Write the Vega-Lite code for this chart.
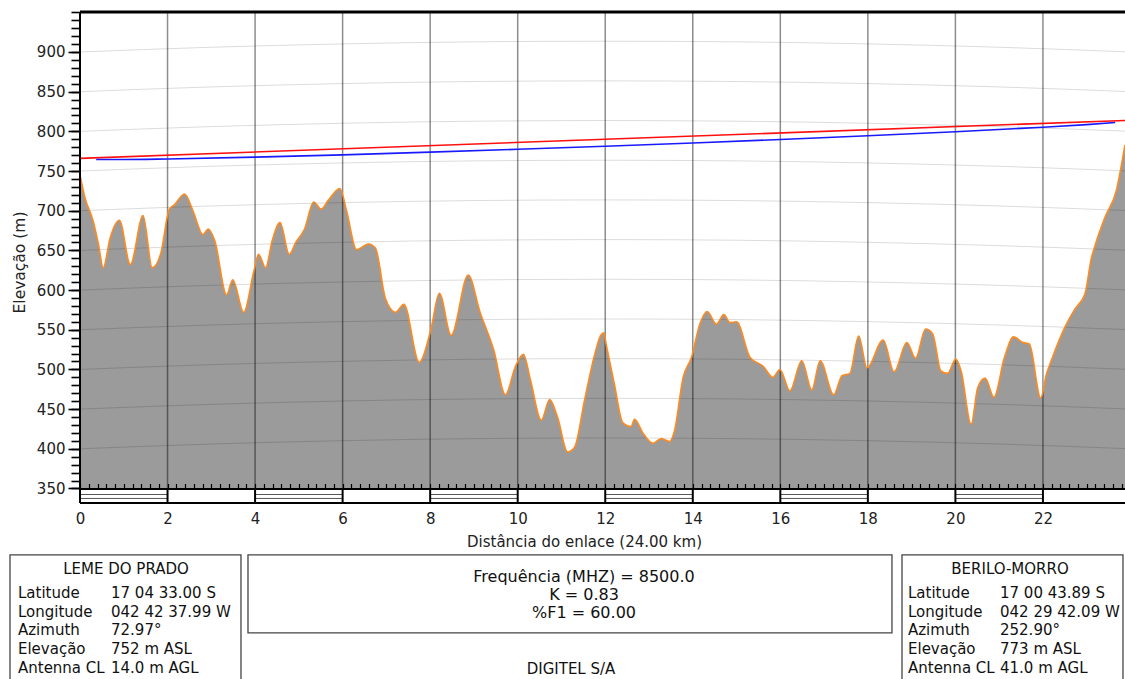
{
"$schema":"https://vega.github.io/schema/vega-lite/v6.json",
"width":1045,"height":667,
"autosize":{"type":"none"},
"padding":{"left":80,"top":12,"right":0,"bottom":0},
"background":"white",
"config":{"view":{"stroke":null},"font":"DejaVu Sans","text":{"font":"DejaVu Sans"}},
"resolve":{"axis":{"x":"independent","y":"independent"}},
"data":{"values":[{}]},
"datasets":{
"terrain":[
{"d":0,"h":745},{"d":0.11,"h":717},{"d":0.3,"h":687},{"d":0.42,"h":658},{"d":0.53,"h":628},{"d":0.69,"h":666},{"d":0.9,"h":688},{"d":1.15,"h":632},{"d":1.44,"h":694},{"d":1.65,"h":628},{"d":1.85,"h":647},{"d":2.04,"h":702},{"d":2.15,"h":707},{"d":2.39,"h":721},{"d":2.58,"h":700},{"d":2.81,"h":670},{"d":2.93,"h":677},{"d":3.08,"h":662},{"d":3.35,"h":594},{"d":3.49,"h":613},{"d":3.74,"h":572},{"d":3.97,"h":623},{"d":4.08,"h":645},{"d":4.24,"h":628},{"d":4.39,"h":662},{"d":4.57,"h":685},{"d":4.78,"h":645},{"d":4.93,"h":660},{"d":5.13,"h":677},{"d":5.34,"h":711},{"d":5.51,"h":702},{"d":5.67,"h":713},{"d":5.94,"h":728},{"d":6.09,"h":700},{"d":6.32,"h":651},{"d":6.59,"h":658},{"d":6.75,"h":653},{"d":6.98,"h":589},{"d":7.21,"h":572},{"d":7.4,"h":582},{"d":7.75,"h":509},{"d":8.02,"h":551},{"d":8.21,"h":596},{"d":8.48,"h":543},{"d":8.87,"h":619},{"d":9.14,"h":572},{"d":9.45,"h":525},{"d":9.72,"h":468},{"d":9.95,"h":504},{"d":10.13,"h":519},{"d":10.29,"h":487},{"d":10.54,"h":436},{"d":10.73,"h":462},{"d":10.91,"h":440},{"d":11.14,"h":396},{"d":11.3,"h":402},{"d":11.53,"h":462},{"d":11.76,"h":519},{"d":11.9,"h":543},{"d":11.97,"h":546},{"d":12.02,"h":532},{"d":12.21,"h":481},{"d":12.4,"h":433},{"d":12.59,"h":428},{"d":12.67,"h":437},{"d":12.86,"h":420},{"d":13.09,"h":407},{"d":13.28,"h":413},{"d":13.47,"h":409},{"d":13.58,"h":422},{"d":13.78,"h":490},{"d":13.97,"h":515},{"d":14.16,"h":557},{"d":14.33,"h":573},{"d":14.54,"h":557},{"d":14.71,"h":569},{"d":14.85,"h":559},{"d":15.0,"h":560},{"d":15.31,"h":515},{"d":15.61,"h":504},{"d":15.83,"h":490},{"d":15.99,"h":500},{"d":16.22,"h":473},{"d":16.49,"h":511},{"d":16.72,"h":474},{"d":16.91,"h":511},{"d":17.22,"h":468},{"d":17.41,"h":492},{"d":17.59,"h":495},{"d":17.79,"h":542},{"d":17.98,"h":502},{"d":18.35,"h":537},{"d":18.6,"h":497},{"d":18.89,"h":534},{"d":19.09,"h":514},{"d":19.32,"h":551},{"d":19.48,"h":545},{"d":19.67,"h":498},{"d":19.82,"h":495},{"d":20.01,"h":513},{"d":20.13,"h":498},{"d":20.36,"h":431},{"d":20.51,"h":477},{"d":20.68,"h":489},{"d":20.88,"h":465},{"d":21.12,"h":515},{"d":21.33,"h":541},{"d":21.54,"h":534},{"d":21.69,"h":532},{"d":21.95,"h":464},{"d":22.08,"h":494},{"d":22.19,"h":511},{"d":22.5,"h":553},{"d":22.73,"h":576},{"d":22.96,"h":595},{"d":23.11,"h":641},{"d":23.19,"h":656},{"d":23.42,"h":692},{"d":23.68,"h":726},{"d":23.84,"h":772},{"d":23.875,"h":783}
],
"los":[{"d":0,"h":766},{"d":24,"h":814}],
"fresnel":[{"d":0.37,"h":764.6},{"d":1,"h":764.5},{"d":2,"h":765.2},{"d":4,"h":767.5},{"d":6,"h":770.4},{"d":8,"h":773.8},{"d":10,"h":777.4},{"d":12,"h":781.3},{"d":14,"h":785.4},{"d":16,"h":789.8},{"d":18,"h":794.4},{"d":20,"h":799.5},{"d":22,"h":805.2},{"d":23,"h":808.5},{"d":23.65,"h":811.2}],
"curv":[
{"lvl":400,"d":0,"h":400},{"lvl":400,"d":3,"h":406},{"lvl":400,"d":6,"h":410.2},{"lvl":400,"d":9,"h":412.8},{"lvl":400,"d":12,"h":413.6},{"lvl":400,"d":15,"h":412.8},{"lvl":400,"d":18,"h":410.2},{"lvl":400,"d":21,"h":406},{"lvl":400,"d":24,"h":400},
{"lvl":450,"d":0,"h":450},{"lvl":450,"d":3,"h":456},{"lvl":450,"d":6,"h":460.2},{"lvl":450,"d":9,"h":462.8},{"lvl":450,"d":12,"h":463.6},{"lvl":450,"d":15,"h":462.8},{"lvl":450,"d":18,"h":460.2},{"lvl":450,"d":21,"h":456},{"lvl":450,"d":24,"h":450},
{"lvl":500,"d":0,"h":500},{"lvl":500,"d":3,"h":506},{"lvl":500,"d":6,"h":510.2},{"lvl":500,"d":9,"h":512.8},{"lvl":500,"d":12,"h":513.6},{"lvl":500,"d":15,"h":512.8},{"lvl":500,"d":18,"h":510.2},{"lvl":500,"d":21,"h":506},{"lvl":500,"d":24,"h":500},
{"lvl":550,"d":0,"h":550},{"lvl":550,"d":3,"h":556},{"lvl":550,"d":6,"h":560.2},{"lvl":550,"d":9,"h":562.8},{"lvl":550,"d":12,"h":563.6},{"lvl":550,"d":15,"h":562.8},{"lvl":550,"d":18,"h":560.2},{"lvl":550,"d":21,"h":556},{"lvl":550,"d":24,"h":550},
{"lvl":600,"d":0,"h":600},{"lvl":600,"d":3,"h":606},{"lvl":600,"d":6,"h":610.2},{"lvl":600,"d":9,"h":612.8},{"lvl":600,"d":12,"h":613.6},{"lvl":600,"d":15,"h":612.8},{"lvl":600,"d":18,"h":610.2},{"lvl":600,"d":21,"h":606},{"lvl":600,"d":24,"h":600},
{"lvl":650,"d":0,"h":650},{"lvl":650,"d":3,"h":656},{"lvl":650,"d":6,"h":660.2},{"lvl":650,"d":9,"h":662.8},{"lvl":650,"d":12,"h":663.6},{"lvl":650,"d":15,"h":662.8},{"lvl":650,"d":18,"h":660.2},{"lvl":650,"d":21,"h":656},{"lvl":650,"d":24,"h":650},
{"lvl":700,"d":0,"h":700},{"lvl":700,"d":3,"h":706},{"lvl":700,"d":6,"h":710.2},{"lvl":700,"d":9,"h":712.8},{"lvl":700,"d":12,"h":713.6},{"lvl":700,"d":15,"h":712.8},{"lvl":700,"d":18,"h":710.2},{"lvl":700,"d":21,"h":706},{"lvl":700,"d":24,"h":700},
{"lvl":750,"d":0,"h":750},{"lvl":750,"d":3,"h":756},{"lvl":750,"d":6,"h":760.2},{"lvl":750,"d":9,"h":762.8},{"lvl":750,"d":12,"h":763.6},{"lvl":750,"d":15,"h":762.8},{"lvl":750,"d":18,"h":760.2},{"lvl":750,"d":21,"h":756},{"lvl":750,"d":24,"h":750},
{"lvl":800,"d":0,"h":800},{"lvl":800,"d":3,"h":806},{"lvl":800,"d":6,"h":810.2},{"lvl":800,"d":9,"h":812.8},{"lvl":800,"d":12,"h":813.6},{"lvl":800,"d":15,"h":812.8},{"lvl":800,"d":18,"h":810.2},{"lvl":800,"d":21,"h":806},{"lvl":800,"d":24,"h":800},
{"lvl":850,"d":0,"h":850},{"lvl":850,"d":3,"h":856},{"lvl":850,"d":6,"h":860.2},{"lvl":850,"d":9,"h":862.8},{"lvl":850,"d":12,"h":863.6},{"lvl":850,"d":15,"h":862.8},{"lvl":850,"d":18,"h":860.2},{"lvl":850,"d":21,"h":856},{"lvl":850,"d":24,"h":850},
{"lvl":900,"d":0,"h":900},{"lvl":900,"d":3,"h":906},{"lvl":900,"d":6,"h":910.2},{"lvl":900,"d":9,"h":912.8},{"lvl":900,"d":12,"h":913.6},{"lvl":900,"d":15,"h":912.8},{"lvl":900,"d":18,"h":910.2},{"lvl":900,"d":21,"h":906},{"lvl":900,"d":24,"h":900}
],
"vgrid":[{"d":2},{"d":4},{"d":6},{"d":8},{"d":10},{"d":12},{"d":14},{"d":16},{"d":18},{"d":20},{"d":22}],
"bars":[{"d0":0,"d1":2},{"d0":4,"d1":6},{"d0":8,"d1":10},{"d0":12,"d1":14},{"d0":16,"d1":18},{"d0":20,"d1":22}]
},
"layer":[
{"data":{"name":"terrain"},"mark":{"type":"area","fill":"#909090","opacity":0.9,"interpolate":"monotone","clip":true},
 "encoding":{
  "x":{"field":"d","type":"quantitative","scale":{"domain":[0,23.875],"nice":false,"zero":false},
   "axis":{"orient":"bottom","offset":-176,"values":[0,2,4,6,8,10,12,14,16,18,20,22],
    "domain":false,"ticks":false,"grid":false,"labelOverlap":false,"labelFlush":false,"labelBound":false,
    "labelFontSize":15,"labelColor":"#222","labelPadding":8,"format":"d",
    "title":"Distância do enlace (24.00 km)","titleFontSize":15,"titleFontWeight":"normal","titleColor":"#222","titlePadding":8,"titleX":504,"titleAlign":"center"}},
  "y":{"field":"h","type":"quantitative","scale":{"domain":[109.9,950.4],"nice":false,"zero":false},
   "axis":{"orient":"left","values":[350,400,450,500,550,600,650,700,750,800,850,900],
    "domain":false,"grid":false,"tickColor":"#000","tickWidth":1.6,"tickSize":12,
    "labelOverlap":false,"labelFontSize":15,"labelColor":"#222","labelPadding":3,"format":"d",
    "title":"Elevação (m)","titleFontSize":15.5,"titleFontWeight":"normal","titleColor":"#222",
    "titleX":-61,"titleY":250,"titleAlign":"center","titleBaseline":"middle","titleAngle":-90}},
  "y2":{"datum":350}}},
{"data":{"name":"curv"},
 "mark":{"type":"line","stroke":"#000","strokeOpacity":0.14,"strokeWidth":1,"interpolate":"monotone","clip":true},
 "encoding":{"x":{"field":"d","type":"quantitative","axis":null},"y":{"field":"h","type":"quantitative","axis":null},"detail":{"field":"lvl"}}},
{"data":{"name":"vgrid"},"mark":{"type":"rule","stroke":"#000","strokeOpacity":0.45,"strokeWidth":1.5},
 "encoding":{
  "x":{"field":"d","type":"quantitative",
   "axis":{"orient":"top","offset":-476.5,"zindex":1,"values":[0,0.2,0.4,0.6,0.8,1,1.2,1.4,1.6,1.8,2,2.2,2.4,2.6,2.8,3,3.2,3.4,3.6,3.8,4,4.2,4.4,4.6,4.8,5,5.2,5.4,5.6,5.8,6,6.2,6.4,6.6,6.8,7,7.2,7.4,7.6,7.8,8,8.2,8.4,8.6,8.8,9,9.2,9.4,9.6,9.8,10,10.2,10.4,10.6,10.8,11,11.2,11.4,11.6,11.8,12,12.2,12.4,12.6,12.8,13,13.2,13.4,13.6,13.8,14,14.2,14.4,14.6,14.8,15,15.2,15.4,15.6,15.8,16,16.2,16.4,16.6,16.8,17,17.2,17.4,17.6,17.8,18,18.2,18.4,18.6,18.8,19,19.2,19.4,19.6,19.8,20,20.2,20.4,20.6,20.8,21,21.2,21.4,21.6,21.8,22,22.2,22.4,22.6,22.8,23,23.2,23.4,23.6,23.8],
    "domain":true,"domainColor":"#000","domainWidth":2,"ticks":true,"tickColor":"#000","tickWidth":1.2,"tickSize":5,"grid":false,"labels":false,"title":null}},
  "y":{"datum":350,
   "axis":{"orient":"left","values":[350,360,370,380,390,400,410,420,430,440,450,460,470,480,490,500,510,520,530,540,550,560,570,580,590,600,610,620,630,640,650,660,670,680,690,700,710,720,730,740,750,760,770,780,790,800,810,820,830,840,850,860,870,880,890,900,910,920,930,940,950],
    "domain":false,"grid":false,"tickColor":"#000","tickWidth":1.6,"tickSize":9,"labels":false,"title":null}},
  "y2":{"datum":950.4}}},
{"data":{"name":"terrain"},"mark":{"type":"line","stroke":"#ff8a1f","strokeWidth":1.6,"interpolate":"monotone","clip":true},
 "encoding":{"x":{"field":"d","type":"quantitative","axis":null},"y":{"field":"h","type":"quantitative","axis":null}}},
{"data":{"name":"los"},"mark":{"type":"line","stroke":"#ff1010","strokeWidth":1.6,"clip":true},
 "encoding":{"x":{"field":"d","type":"quantitative","axis":null},"y":{"field":"h","type":"quantitative","axis":null}}},
{"data":{"name":"fresnel"},"mark":{"type":"line","stroke":"#1a1aff","strokeWidth":1.6,"interpolate":"monotone","clip":true},
 "encoding":{"x":{"field":"d","type":"quantitative","axis":null},"y":{"field":"h","type":"quantitative","axis":null}}},
{"data":{"name":"bars"},"mark":{"type":"rule","stroke":"#555","strokeWidth":1},
 "encoding":{"x":{"field":"d0","type":"quantitative","axis":null},"x2":{"field":"d1"},"y":{"datum":342.4,"axis":null}}},
{"data":{"name":"bars"},"mark":{"type":"rule","stroke":"#555","strokeWidth":1},
 "encoding":{"x":{"field":"d0","type":"quantitative","axis":null},"x2":{"field":"d1"},"y":{"datum":337.4,"axis":null}}},
{"data":{"name":"vgrid"},"mark":{"type":"rule","stroke":"#000","strokeWidth":2},
 "encoding":{"x":{"field":"d","type":"quantitative","axis":null},"y":{"datum":331.7,"axis":null},"y2":{"datum":350}}},
{"mark":{"type":"rule","stroke":"#000","strokeWidth":2},"encoding":{"y":{"datum":331.7,"axis":null}}},
{"mark":{"type":"rule","stroke":"#000","strokeWidth":3},"encoding":{"y":{"datum":950.4,"axis":null}}},
{"mark":{"type":"rule","stroke":"#000","strokeWidth":2},"encoding":{"x":{"datum":0,"axis":null},"y":{"datum":331.7,"axis":null},"y2":{"datum":950.4}}},
{"mark":{"type":"rect","fill":"white","stroke":"#444","strokeWidth":1.3,"clip":false},
 "encoding":{"x":{"datum":-1.599,"axis":null},"x2":{"datum":3.678},"y":{"datum":266.2,"axis":null},"y2":{"datum":96.1}}},
{"mark":{"type":"rect","fill":"white","stroke":"#444","strokeWidth":1.3,"clip":false},
 "encoding":{"x":{"datum":3.838,"axis":null},"x2":{"datum":18.551},"y":{"datum":266.2,"axis":null},"y2":{"datum":167.9}}},
{"mark":{"type":"rect","fill":"white","stroke":"#444","strokeWidth":1.3,"clip":false},
 "encoding":{"x":{"datum":18.78,"axis":null},"x2":{"datum":23.829},"y":{"datum":266.2,"axis":null},"y2":{"datum":96.1}}},
{"mark":{"type":"text","text":"LEME DO PRADO","align":"center","baseline":"alphabetic","fontSize":15,"color":"#111"},
 "encoding":{"x":{"datum":1.051,"axis":null},"y":{"datum":242.2,"axis":null}}},
{"mark":{"type":"text","text":["Latitude","Longitude","Azimuth","Elevação","Antenna CL"],"align":"left","baseline":"alphabetic","fontSize":15,"lineHeight":18.75,"color":"#111"},
 "encoding":{"x":{"datum":-1.417,"axis":null},"y":{"datum":212.0,"axis":null}}},
{"mark":{"type":"text","text":["17 04 33.00 S","042 42 37.99 W","72.97°","752 m ASL","14.0 m AGL"],"align":"left","baseline":"alphabetic","fontSize":15,"lineHeight":18.75,"color":"#111"},
 "encoding":{"x":{"datum":0.708,"axis":null},"y":{"datum":212.0,"axis":null}}},
{"mark":{"type":"text","text":["Frequência (MHZ) = 8500.0","K = 0.83","%F1 = 60.00"],"align":"center","baseline":"alphabetic","fontSize":16,"lineHeight":18,"color":"#111"},
 "encoding":{"x":{"datum":11.515,"axis":null},"y":{"datum":232.2,"axis":null}}},
{"mark":{"type":"text","text":"DIGITEL S/A","align":"center","baseline":"alphabetic","fontSize":15,"color":"#111"},
 "encoding":{"x":{"datum":11.218,"axis":null},"y":{"datum":116.2,"axis":null}}},
{"mark":{"type":"text","text":"BERILO-MORRO","align":"center","baseline":"alphabetic","fontSize":15,"color":"#111"},
 "encoding":{"x":{"datum":21.248,"axis":null},"y":{"datum":242.2,"axis":null}}},
{"mark":{"type":"text","text":["Latitude","Longitude","Azimuth","Elevação","Antenna CL"],"align":"left","baseline":"alphabetic","fontSize":15,"lineHeight":18.75,"color":"#111"},
 "encoding":{"x":{"datum":18.917,"axis":null},"y":{"datum":212.0,"axis":null}}},
{"mark":{"type":"text","text":["17 00 43.89 S","042 29 42.09 W","252.90°","773 m ASL","41.0 m AGL"],"align":"left","baseline":"alphabetic","fontSize":15,"lineHeight":18.75,"color":"#111"},
 "encoding":{"x":{"datum":21.019,"axis":null},"y":{"datum":212.0,"axis":null}}}
]
}
